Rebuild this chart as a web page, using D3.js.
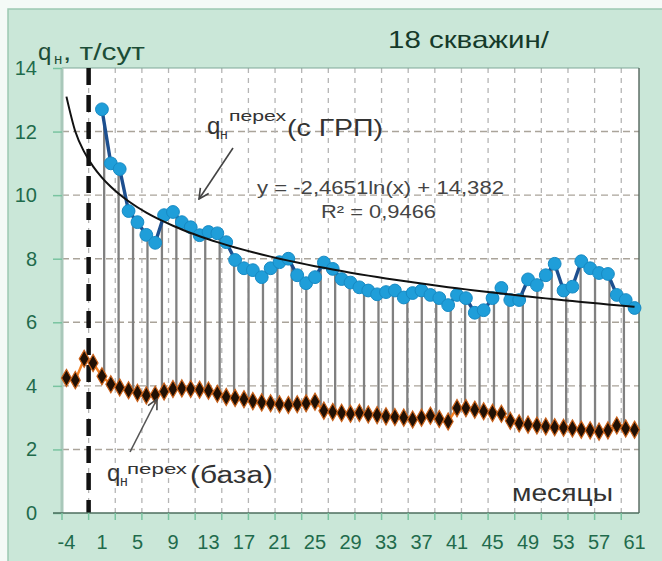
<!DOCTYPE html>
<html><head><meta charset="utf-8">
<script src="https://cdn.jsdelivr.net/npm/d3@7/dist/d3.min.js"></script>
<style>body{margin:0;background:#fff} svg{display:block} text{font-family:Arial,"Liberation Sans",sans-serif}</style>
</head><body><svg id="c" width="662" height="561"></svg>
<script>
// ---------- DATA ----------
const categories = [-4,-3,-2,-1,1,2,3,4,5,6,7,8,9,10,11,12,13,14,15,16,17,18,19,20,21,22,23,24,25,26,27,28,29,30,31,32,33,34,35,36,37,38,39,40,41,42,43,44,45,46,47,48,49,50,51,52,53,54,55,56,57,58,59,60,61];
const xTickLabels = [-4,1,5,9,13,17,21,25,29,33,37,41,45,49,53,57,61];
const yTicks = [0,2,4,6,8,10,12,14];
// базовая добыча (all categories)
const baseValues = [4.25,4.18,4.85,4.72,
  4.3,4.05,3.95,3.86,3.78,3.7,3.72,3.82,3.9,3.92,3.9,3.88,3.85,3.75,3.65,3.62,3.58,3.52,3.48,3.45,3.42,3.4,3.42,3.45,3.5,3.22,
  3.18,3.15,3.12,3.15,3.1,3.08,3.04,3.02,3.0,2.94,3.0,3.06,2.96,2.88,3.3,3.3,3.25,3.2,3.15,3.12,
  2.9,2.82,2.78,2.75,2.72,2.7,2.68,2.66,2.62,2.6,2.56,2.6,2.75,2.66,2.62];
// с ГРП (months 1..61)
const grpMonths = categories.filter(m => m >= 1);
const grpValues = [12.7,11.0,10.82,9.5,9.15,8.75,8.5,9.37,9.47,9.15,8.99,8.74,8.84,8.8,8.52,7.96,7.7,7.64,7.42,7.7,
  7.89,8.0,7.48,7.23,7.42,7.88,7.68,7.36,7.25,7.1,7.0,6.88,6.95,7.0,6.78,6.92,7.0,6.86,6.76,6.54,
  6.86,6.76,6.3,6.38,6.76,7.08,6.7,6.7,7.35,7.17,7.48,7.84,7.0,7.12,7.92,7.7,7.55,7.52,6.86,6.7,6.45];
// trend as drawn: v = a + b*ln(n), n = category number (1..65)
const trendIntercept = 13.1, trendSlope = -1.584;
const dropLineCount = 37, dropStartMonth = 1.25, dropEndMonth = 59.8;

// ---------- LAYOUT ----------
const svg = d3.select("#c");
const L = 62, R = 639, T = 68, B = 513;
const x = d3.scaleBand().domain(categories).range([L, R]).padding(0);
const bw = x.bandwidth();
const y = d3.scaleLinear().domain([0, 14]).range([B, T]);
const cx = c => x(c) + bw / 2;
const green = "#1f6b4c";

// background
svg.append("rect").attr("width", 662).attr("height", 561).attr("fill", "#f4faf7");
svg.append("rect").attr("x", 8).attr("y", 9).attr("width", 660).attr("height", 560)
  .attr("fill", "#cae7d8").attr("stroke", "#9cc9b2").attr("stroke-width", 1.5);
svg.append("rect").attr("x", L).attr("y", T).attr("width", R - L).attr("height", B - T)
  .attr("fill", "#ffffff");

// horizontal gridlines
svg.append("g").selectAll("line").data(yTicks.filter(v => v > 0 && v < 14)).join("line")
  .attr("x1", L).attr("x2", R).attr("y1", d => y(d)).attr("y2", d => y(d))
  .attr("stroke", "#aaa49a").attr("stroke-width", 1.4).attr("stroke-dasharray", "7,4");

// vertical gridlines every 3 categories (at boundaries)
const vIdx = d3.range(3, categories.length, 3);
svg.append("g").selectAll("line").data(vIdx).join("line")
  .attr("x1", i => x(categories[i])).attr("x2", i => x(categories[i]))
  .attr("y1", T).attr("y2", B)
  .attr("stroke", "#b5b5b5").attr("stroke-width", 1.3).attr("stroke-dasharray", "5,5");

// plot frame
svg.append("line").attr("x1", L).attr("x2", R).attr("y1", T).attr("y2", T).attr("stroke", "#7fa898").attr("stroke-width", 1.2);
svg.append("line").attr("x1", R).attr("x2", R).attr("y1", T).attr("y2", B).attr("stroke", "#55655d").attr("stroke-width", 1.4);
svg.append("line").attr("x1", L).attr("x2", L).attr("y1", T).attr("y2", B).attr("stroke", "#a9c8ba").attr("stroke-width", 3);

// drop lines between series
const grpAt = m => {
  const i0 = Math.floor(m), i1 = Math.min(61, i0 + 1), f = m - i0;
  return grpValues[i0 - 1] * (1 - f) + grpValues[i1 - 1] * f;
};
const baseAt = m => {
  const i0 = Math.floor(m), i1 = Math.min(61, i0 + 1), f = m - i0;
  const b0 = baseValues[categories.indexOf(i0)], b1 = baseValues[categories.indexOf(i1)];
  return b0 * (1 - f) + b1 * f;
};
const xm = m => cx(1) + (m - 1) * bw;
const dropMonths = d3.range(dropLineCount).map(k => dropStartMonth + k * (dropEndMonth - dropStartMonth) / (dropLineCount - 1));
svg.append("g").selectAll("line").data(dropMonths).join("line")
  .attr("x1", m => xm(m)).attr("x2", m => xm(m))
  .attr("y1", m => y(grpAt(m))).attr("y2", m => y(baseAt(m)))
  .attr("stroke", "#808080").attr("stroke-width", 2.3);

// black dashed vertical marker (start of ГРП)
svg.append("line").attr("x1", x(-2) + bw).attr("x2", x(-2) + bw).attr("y1", T).attr("y2", B)
  .attr("stroke", "#111").attr("stroke-width", 4.5).attr("stroke-dasharray", "17,10");

// y axis: ticks via d3 axis, labels placed explicitly left
const yAx = svg.append("g").attr("transform", `translate(${L},0)`)
  .call(d3.axisLeft(y).tickValues(yTicks).tickSize(9).tickFormat(""));
yAx.select(".domain").remove();
yAx.selectAll("line").attr("stroke", "#79c4a0").attr("stroke-width", 1.5);
svg.append("g").selectAll("text").data(yTicks).join("text")
  .attr("x", 37).attr("y", d => y(d)).attr("dy", "0.35em").attr("text-anchor", "end")
  .attr("font-size", 20).attr("fill", green).text(d => d);

// x axis line + ticks
svg.append("line").attr("x1", 53).attr("x2", R).attr("y1", B).attr("y2", B).attr("stroke", "#4d6e5e").attr("stroke-width", 1.5);
svg.append("g").selectAll("line").data(d3.range(0, categories.length + 1, 3)).join("line")
  .attr("x1", i => L + i * bw).attr("x2", i => L + i * bw).attr("y1", B).attr("y2", B + 7)
  .attr("stroke", "#79c4a0").attr("stroke-width", 1.5);
const xAx = svg.append("g").attr("transform", `translate(0,${B})`)
  .call(d3.axisBottom(x).tickValues(xTickLabels).tickSize(0).tickPadding(22));
xAx.select(".domain").remove();
xAx.selectAll("text").attr("font-size", 20).attr("fill", green).attr("font-family", "Arial, 'Liberation Sans', sans-serif");

// base series
const baseData = categories.map((c, i) => ({ c, v: baseValues[i] }));
svg.append("path").datum(baseData)
  .attr("d", d3.line().x(d => cx(d.c)).y(d => y(d.v)))
  .attr("fill", "none").attr("stroke", "#f48224").attr("stroke-width", 2.5);
svg.append("g").selectAll("path").data(baseData).join("path")
  .attr("transform", d => `translate(${cx(d.c)},${y(d.v)})`)
  .attr("d", d3.symbol(d3.symbolDiamond, 85))
  .attr("fill", "#201004").attr("stroke", "#c9611a").attr("stroke-width", 1.2);

// ГРП series
const grpData = grpMonths.map((m, i) => ({ c: m, v: grpValues[i] }));
svg.append("path").datum(grpData)
  .attr("d", d3.line().x(d => cx(d.c)).y(d => y(d.v)))
  .attr("fill", "none").attr("stroke", "#1d4f8f").attr("stroke-width", 3.4);
svg.append("g").selectAll("circle").data(grpData).join("circle")
  .attr("cx", d => cx(d.c)).attr("cy", d => y(d.v)).attr("r", 6.4)
  .attr("fill", "#1f9ed9").attr("stroke", "#178ac4").attr("stroke-width", 1);

// trend line
const trendData = categories.map((c, i) => ({ c, v: trendIntercept + trendSlope * Math.log(i + 1) }));
svg.append("path").datum(trendData)
  .attr("d", d3.line().curve(d3.curveMonotoneX).x(d => cx(d.c)).y(d => y(d.v)))
  .attr("fill", "none").attr("stroke", "#111").attr("stroke-width", 2);

// arrow markers
const defs = svg.append("defs");
defs.append("marker").attr("id", "ah").attr("viewBox", "0 0 12 12").attr("refX", 11).attr("refY", 6)
  .attr("markerWidth", 12).attr("markerHeight", 12).attr("markerUnits", "userSpaceOnUse").attr("orient", "auto")
  .append("path").attr("d", "M1,1 L11,6 L1,11").attr("fill", "none").attr("stroke", "#444").attr("stroke-width", 1.6);
svg.append("line").attr("x1", 233).attr("y1", 148).attr("x2", 199).attr("y2", 199)
  .attr("stroke", "#444").attr("stroke-width", 1.6).attr("marker-end", "url(#ah)");
svg.append("line").attr("x1", 130).attr("y1", 452).attr("x2", 157).attr("y2", 399)
  .attr("stroke", "#555").attr("stroke-width", 1.6).attr("marker-end", "url(#ah)");

// texts
function txt(t, xx, yy, size, fill, len) {
  const e = svg.append("text").attr("x", xx).attr("y", yy).attr("font-size", size).attr("fill", fill).text(t);
  if (len) e.attr("textLength", len).attr("lengthAdjust", "spacingAndGlyphs");
  return e;
}
txt("q", 38, 60, 24, "#1c4d37");
txt("н", 54, 64, 15, "#1c4d37");
txt(", т/сут", 63, 60, 24, "#1c4d37", 82);

txt("18 скважин/", 388, 48, 24, "#153a2a", 161);

txt("q", 207, 134, 24, "#333");
txt("н", 220, 139, 14, "#333");
txt("перех", 229, 121, 14, "#333", 57);
txt("(с ГРП)", 287, 136, 24, "#333", 96);

txt("y = -2,4651ln(x)  + 14,382", 257, 194, 18, "#444", 247);
txt("R² = 0,9466", 321, 218, 18, "#444", 115);

txt("q", 107, 481, 24, "#333");
txt("н", 120, 486, 14, "#333");
txt("перех", 127, 474, 14, "#333", 60);
txt("(база)", 190, 483, 23, "#333", 83);

txt("месяцы", 512, 501, 24, "#333", 101);
</script></body></html>
